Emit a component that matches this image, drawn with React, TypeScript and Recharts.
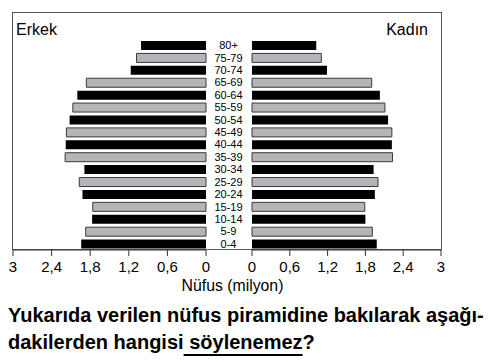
import React from "react";
import { BarChart, Bar, XAxis, YAxis, Cell } from "recharts";

const ageGroups = ["80+", "75-79", "70-74", "65-69", "60-64", "55-59", "50-54", "45-49", "40-44", "35-39", "30-34", "25-29", "20-24", "15-19", "10-14", "5-9", "0-4"];
const maleValues = [1.01, 1.08, 1.17, 1.86, 2.0, 2.07, 2.12, 2.17, 2.18, 2.19, 1.89, 1.97, 1.92, 1.76, 1.77, 1.87, 1.94];
const femaleValues = [1.02, 1.1, 1.19, 1.9, 2.03, 2.11, 2.16, 2.22, 2.22, 2.23, 1.93, 2.0, 1.95, 1.79, 1.8, 1.91, 1.98];
const axisTicks = [0, 0.6, 1.2, 1.8, 2.4, 3];
const leftTitle = "Erkek";
const rightTitle = "Kadın";
const axisTitle = "Nüfus (milyon)";

const data = ageGroups.map((age, i) => ({ age, male: maleValues[i], female: femaleValues[i] }));

const FONT = "'Liberation Sans', Arial, Helvetica, sans-serif";
const BLACK = "#000000";
const GRAY = "#b4b5b8";
const fmt = (v: number) => String(v).replace(".", ",");

const cellProps = (i: number) =>
  i % 2 === 0
    ? { fill: BLACK, stroke: "none" }
    : { fill: GRAY, stroke: "#3a3a3a", strokeWidth: 1 };

const AgeTick = (props: any) => {
  const { y, payload } = props;
  return (
    <text x={22.5} y={y} dy="0.36em" textAnchor="middle" fontSize={11} fill="#000" fontFamily={FONT}>
      {payload.value}
    </text>
  );
};

export default function App() {
  return (
    <div style={{ position: "absolute", left: 0, top: 0, width: 491, height: 362, background: "#fff", fontFamily: FONT, overflow: "hidden" }}>
      <div style={{ position: "absolute", left: 12, top: 12, width: 430, height: 238, boxSizing: "border-box", border: "1px solid #555" }} />
      <div style={{ position: "absolute", left: 0, top: 0 }}>
        <BarChart width={215} height={300} data={data} layout="vertical" margin={{ top: 39, right: 9, left: 13, bottom: 0 }}>
          <XAxis type="number" dataKey="male" domain={[0, 3]} reversed ticks={axisTicks} tickFormatter={fmt} height={50} tickSize={6} tickMargin={5} axisLine={{ stroke: "#333" }} tickLine={{ stroke: "#333" }} tick={{ fontSize: 15, fill: "#000", fontFamily: FONT }} interval={0} />
          <YAxis type="category" dataKey="age" hide />
          <Bar dataKey="male" barSize={9} isAnimationActive={false}>
            {data.map((d, i) => (
              <Cell key={d.age} {...cellProps(i)} />
            ))}
          </Bar>
        </BarChart>
      </div>
      <div style={{ position: "absolute", left: 206, top: 0 }}>
        <BarChart width={245} height={300} data={data} layout="vertical" margin={{ top: 39, right: 10, left: 0, bottom: 0 }}>
          <XAxis type="number" dataKey="female" domain={[0, 3]} ticks={axisTicks} tickFormatter={fmt} height={50} tickSize={6} tickMargin={5} axisLine={{ stroke: "#333" }} tickLine={{ stroke: "#333" }} tick={{ fontSize: 15, fill: "#000", fontFamily: FONT }} interval={0} />
          <YAxis type="category" dataKey="age" width={46} axisLine={false} tickLine={false} tick={<AgeTick />} interval={0} />
          <Bar dataKey="female" barSize={9} isAnimationActive={false}>
            {data.map((d, i) => (
              <Cell key={d.age} {...cellProps(i)} />
            ))}
          </Bar>
        </BarChart>
      </div>
      <div style={{ position: "absolute", left: 16, top: 21.5, fontSize: 16, lineHeight: "16px", color: "#000" }}>{leftTitle}</div>
      <div style={{ position: "absolute", right: 63, top: 21.5, fontSize: 16, lineHeight: "16px", color: "#000" }}>{rightTitle}</div>
      <div style={{ position: "absolute", left: 0, width: 465, top: 277.5, textAlign: "center", fontSize: 15.8, lineHeight: "16px", color: "#000" }}>{axisTitle}</div>
      <div style={{ position: "absolute", left: 8, top: 301.5, fontSize: 20, lineHeight: "27.7px", fontWeight: "bold", color: "#000", whiteSpace: "nowrap" }}>
        Yukarıda verilen nüfus piramidine bakılarak aşağı-
        <br />
        dakilerden hangisi
        <span style={{ textDecoration: "underline", textDecorationThickness: "2px", textUnderlineOffset: "5px" }}> söylenemez</span>?
      </div>
    </div>
  );
}
